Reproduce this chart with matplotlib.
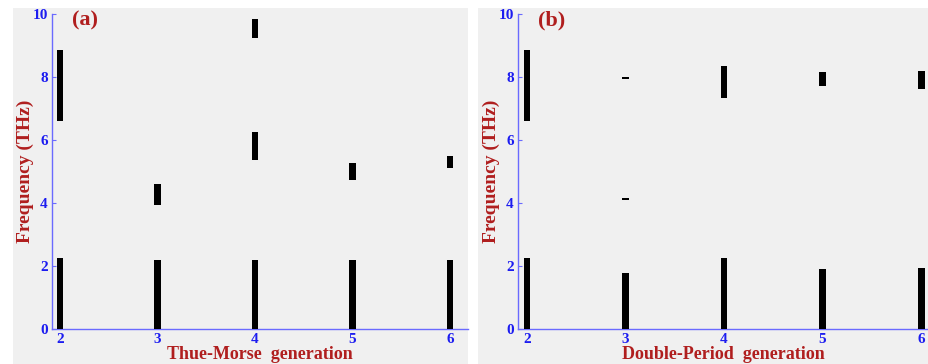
import numpy as np
import matplotlib.pyplot as plt
from matplotlib.patches import Rectangle

# band edges (THz) for each generation
tm_gen  = [2, 2, 3, 3, 4, 4, 4, 5, 5, 6, 6]
tm_low  = [0, 6.60, 0, 3.95, 0, 5.35, 9.25, 0, 4.72, 0, 5.10]
tm_high = [2.25, 8.85, 2.20, 4.60, 2.20, 6.25, 9.85, 2.20, 5.28, 2.20, 5.50]

dp_gen  = [2, 2, 3, 3, 3, 4, 4, 5, 5, 6, 6]
dp_low  = [0, 6.60, 0, 4.08, 7.93, 0, 7.32, 0, 7.70, 0, 7.62]
dp_high = [2.25, 8.85, 1.78, 4.15, 8.00, 2.25, 8.35, 1.90, 8.16, 1.93, 8.20]

gen_ticks = [2, 3, 4, 5, 6]
freq_ticks = [0, 2, 4, 6, 8, 10]

gray = '#f0f0f0'
blue = '#1c1cf0'
axis_blue = '#6a6aff'
dark_red = '#b01e1e'
serif = 'Liberation Serif'

W, H = 929, 364
fig = plt.figure(figsize=(W / 100, H / 100), dpi=100)
fig.patch.set_facecolor('white')

# gray backing panels behind each plot
for x0, x1 in [(13, 468), (478, 929)]:
    fig.patches.append(Rectangle((x0 / W, 0), (x1 - x0) / W, 1 - 8 / H,
                                 transform=fig.transFigure, facecolor=gray,
                                 edgecolor='none', zorder=-10))

panels = [
    dict(rect=(52, 468), xlim=(1.918, 6.185), gen=tm_gen, low=tm_low, high=tm_high,
         tag='(a)', xlabel='Thue-Morse  generation'),
    dict(rect=(518, 929), xlim=(1.909, 6.08), gen=dp_gen, low=dp_low, high=dp_high,
         tag='(b)', xlabel='Double-Period  generation'),
]

top_px, bot_px = 14, 329
for p in panels:
    l, r = p['rect']
    ax = fig.add_axes([l / W, 1 - bot_px / H, (r - l) / W, (bot_px - top_px) / H])
    ax.set_facecolor(gray)
    low = np.array(p['low'])
    high = np.array(p['high'])
    ax.bar(p['gen'], high - low, bottom=low, width=0.07, color='black',
           edgecolor='none', zorder=3)
    ax.set_xlim(*p['xlim'])
    ax.set_ylim(0, 10)
    ax.set_xticks(gen_ticks)
    ax.set_yticks(freq_ticks)
    for s in ['top', 'right']:
        ax.spines[s].set_visible(False)
    for s in ['left', 'bottom']:
        ax.spines[s].set_color(axis_blue)
        ax.spines[s].set_linewidth(1.0)
    ax.tick_params(direction='in', length=3, color=axis_blue, labelcolor=blue,
                   labelsize=11, pad=3)
    for lab in ax.get_xticklabels() + ax.get_yticklabels():
        lab.set_fontfamily(serif)
        lab.set_fontweight('bold')
    ax.set_xlabel(p['xlabel'], family=serif, fontweight='bold', fontsize=13,
                  color=dark_red, labelpad=0)
    ax.set_ylabel('Frequency (THz)', family=serif, fontweight='bold', fontsize=14,
                  color=dark_red, labelpad=-1)
    ax.text(0.048, 0.98, p['tag'], transform=ax.transAxes, family=serif,
            fontweight='bold', fontsize=16, color=dark_red, va='center', ha='left')

fig.savefig('out.png', dpi=100, facecolor='white')
